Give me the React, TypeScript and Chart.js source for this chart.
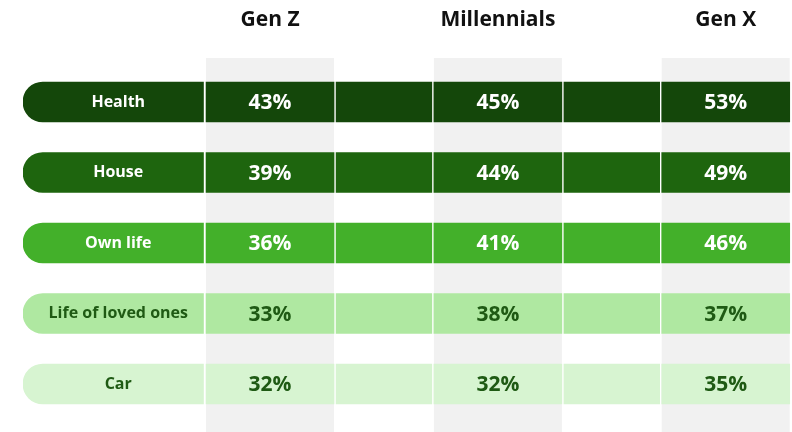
import React, { useEffect, useRef } from "react";
import { Chart, registerables } from "chart.js";

Chart.register(...registerables);

// ---- data ----
const categories = ["Health", "House", "Own life", "Life of loved ones", "Car"];
const generations = ["Gen Z", "Millennials", "Gen X"];
const genZ = [43, 39, 36, 33, 32];
const millennials = [45, 44, 41, 38, 32];
const genX = [53, 49, 46, 37, 35];
const seriesValues = [genZ, millennials, genX];

// ---- styles ----
const rowColors = ["#14470a", "#1e650e", "#43b02a", "#afe8a1", "#d7f4d1"];
const rowTextColors = ["#ffffff", "#ffffff", "#ffffff", "#1f5a14", "#1f5a14"];
const columnBg = "#f1f1f1";
const FONT = '"Open Sans", "DejaVu Sans", sans-serif';

// ---- table layout, in column-width units on the x scale ----
const LABEL_W = 1.41;
const SEP = 0.016;
const COL_START0 = 1.43;
const COL_PITCH = 1.78;
const COL_W = 1.0;
const X_MAX = 6.0;

const colStart = (i: number) => COL_START0 + i * COL_PITCH;

export default function App() {
  const canvasRef = useRef<HTMLCanvasElement | null>(null);

  useEffect(() => {
    const canvas = canvasRef.current;
    if (!canvas) return;

    const datasets: any[] = [];
    // label pill
    datasets.push({
      label: "label",
      kind: "label",
      data: categories.map(() => [0, LABEL_W]),
      backgroundColor: rowColors,
      borderRadius: { topLeft: 20, bottomLeft: 20, topRight: 0, bottomRight: 0 },
      borderSkipped: false,
      grouped: false,
      barThickness: 40,
    });
    generations.forEach((g, gi) => {
      const s = colStart(gi);
      datasets.push({
        label: g,
        kind: "value",
        genIndex: gi,
        data: categories.map(() => [s, s + COL_W]),
        backgroundColor: rowColors,
        borderSkipped: false,
        borderRadius: 0,
        grouped: false,
        barThickness: 40,
      });
      if (gi < generations.length - 1) {
        const gs = s + COL_W + SEP;
        const ge = colStart(gi + 1) - SEP;
        datasets.push({
          label: "gap" + gi,
          kind: "gap",
          data: categories.map(() => [gs, ge]),
          backgroundColor: rowColors,
          borderSkipped: false,
          borderRadius: 0,
          grouped: false,
          barThickness: 40,
        });
      }
    });

    const tablePlugin = {
      id: "tablePlugin",
      beforeDatasetsDraw(chart: any) {
        const { ctx } = chart;
        const xs = chart.scales.x;
        ctx.save();
        generations.forEach((g, gi) => {
          const x0 = xs.getPixelForValue(colStart(gi));
          const x1 = xs.getPixelForValue(colStart(gi) + COL_W);
          ctx.fillStyle = columnBg;
          ctx.fillRect(x0, 58, x1 - x0, chart.height - 58);
          ctx.fillStyle = "#111111";
          ctx.font = `bold 21px ${FONT}`;
          ctx.textAlign = "center";
          ctx.textBaseline = "middle";
          ctx.fillText(g, (x0 + x1) / 2, 20);
        });
        ctx.restore();
      },
      afterDatasetsDraw(chart: any) {
        const { ctx } = chart;
        ctx.save();
        ctx.textAlign = "center";
        ctx.textBaseline = "middle";
        chart.data.datasets.forEach((ds: any, di: number) => {
          if (ds.kind === "gap") return;
          const meta = chart.getDatasetMeta(di);
          meta.data.forEach((el: any, ri: number) => {
            ctx.fillStyle = rowTextColors[ri];
            if (ds.kind === "label") {
              ctx.font = `bold 16px ${FONT}`;
              const cx = (Math.min(el.x, el.base) + 10 + Math.max(el.x, el.base)) / 2;
              ctx.fillText(categories[ri], cx, el.y);
            } else {
              ctx.font = `bold 21px ${FONT}`;
              const cx = (el.x + el.base) / 2;
              ctx.fillText(seriesValues[ds.genIndex][ri] + "%", cx, el.y + 1.5);
            }
          });
        });
        ctx.restore();
      },
    };

    const chart = new Chart(canvas, {
      type: "bar",
      data: { labels: categories, datasets },
      options: {
        indexAxis: "y",
        animation: false,
        responsive: false,
        devicePixelRatio: 1,
        layout: { padding: { left: 23, right: 1, top: 66.75, bottom: 12.75 } },
        scales: {
          x: { type: "linear", min: 0, max: X_MAX, display: false },
          y: { type: "category", display: false, offset: true },
        },
        plugins: { legend: { display: false }, tooltip: { enabled: false } },
      },
      plugins: [tablePlugin],
    } as any);

    return () => chart.destroy();
  }, []);

  return (
    <div style={{ position: "absolute", left: 0, top: 0, width: 792, height: 432, background: "#ffffff" }}>
      <canvas ref={canvasRef} width={792} height={432} />
    </div>
  );
}
